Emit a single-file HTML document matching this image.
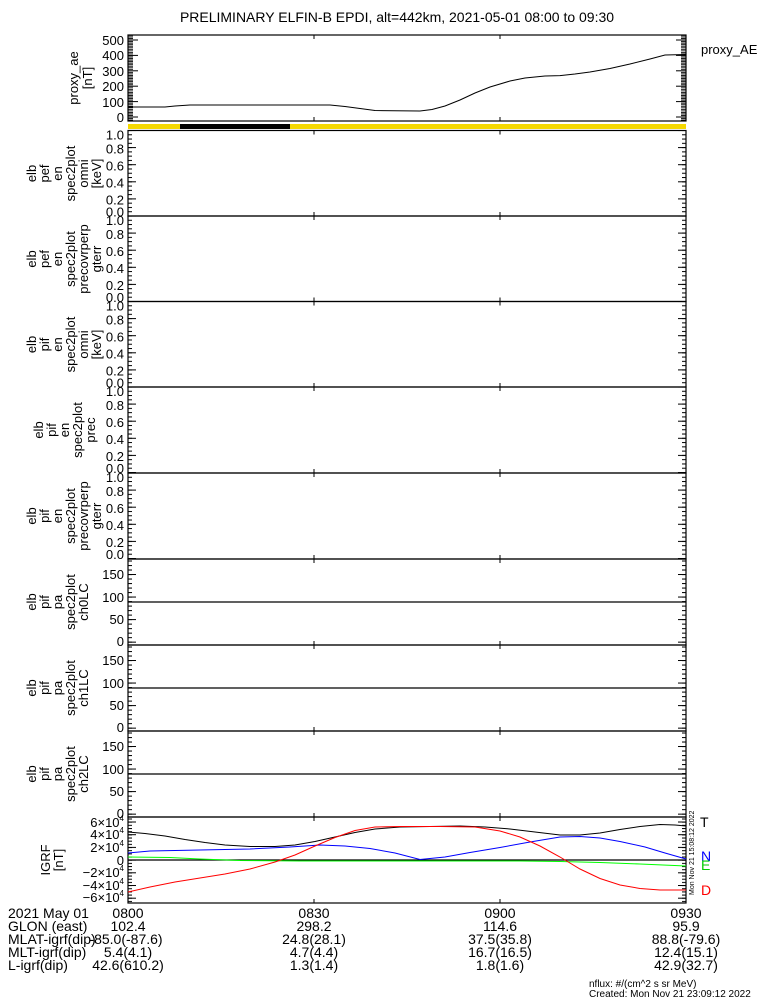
<!DOCTYPE html>
<html><head><meta charset="utf-8"><style>
html,body{margin:0;padding:0;background:#fff}
svg{display:block;font-family:"Liberation Sans",sans-serif}
</style></head><body>
<svg width="775" height="1000" viewBox="0 0 775 1000" xmlns="http://www.w3.org/2000/svg">
<defs>
<pattern id="sMin" patternUnits="userSpaceOnUse" width="1" height="4.275" y="-0.5"><rect width="1" height="1" fill="#000"/></pattern>
<pattern id="sMaj" patternUnits="userSpaceOnUse" width="1" height="17.1" y="-0.5"><rect width="1" height="1" fill="#000"/></pattern>
<pattern id="pMin" patternUnits="userSpaceOnUse" width="1" height="4.51" y="1.5"><rect width="1" height="1" fill="#000"/></pattern>
<pattern id="pMaj" patternUnits="userSpaceOnUse" width="1" height="22.55" y="15"><rect width="1" height="1" fill="#000"/></pattern>
<pattern id="aMin" patternUnits="userSpaceOnUse" width="1" height="1.54" y="0"><rect width="1" height="0.9" fill="#000"/></pattern>
<pattern id="aMaj" patternUnits="userSpaceOnUse" width="1" height="15.4" y="4.5"><rect width="1" height="1" fill="#000"/></pattern>
<pattern id="iMin" patternUnits="userSpaceOnUse" width="1" height="3.17" y="1.5"><rect width="1" height="1" fill="#000"/></pattern>
<pattern id="iMaj" patternUnits="userSpaceOnUse" width="1" height="12.7" y="4.5"><rect width="1" height="1" fill="#000"/></pattern>
</defs>
<text x="397" y="22" font-size="14" text-anchor="middle">PRELIMINARY ELFIN-B EPDI, alt=442km, 2021-05-01 08:00 to 09:30</text>

<!-- proxy AE -->
<g transform="translate(0,35)">
<rect x="128" y="0" width="558" height="86" fill="none" stroke="#000" stroke-width="1.2"/>
<rect x="128" y="0" width="5" height="86" fill="url(#aMin)"/>
<rect x="128" y="0" width="10" height="86" fill="url(#aMaj)"/>
<rect x="681" y="0" width="5" height="86" fill="url(#aMin)"/>
<rect x="676" y="0" width="10" height="86" fill="url(#aMaj)"/>
<g font-size="13" text-anchor="end">
<text x="124" y="10">500</text><text x="124" y="25">400</text><text x="124" y="41">300</text><text x="124" y="56">200</text><text x="124" y="72">100</text><text x="124" y="87">0</text></g>
<text transform="translate(78,43) rotate(-90)" font-size="13" text-anchor="middle">proxy_ae</text>
<text transform="translate(92,43) rotate(-90)" font-size="13" text-anchor="middle">[nT]</text>
</g>
<polyline fill="none" stroke="#000" stroke-width="1" points="128,107 165,107 175,106 190,105 330,105 345,106.5 375,110.5 420,111 432,109.5 445,106 460,100 475,93 490,87 510,81 525,78 545,76 560,75.6 575,74 590,72 610,68.5 630,64 650,59 665,55 686,54.5"/>
<text x="701" y="54" font-size="13">proxy_AE</text>
<rect x="128" y="124" width="558" height="5" fill="#f5d800"/>
<rect x="180" y="124" width="110" height="5" fill="#000"/>

<!-- spec panels -->
<g font-size="13">
<g transform="translate(0,130.5)"><rect x="128" y="0" width="558" height="85.5" fill="none" stroke="#000" stroke-width="1.2"/>
<rect x="128" y="0" width="4" height="86" fill="url(#sMin)"/><rect x="128" y="0" width="8" height="86" fill="url(#sMaj)"/>
<rect x="682" y="0" width="4" height="86" fill="url(#sMin)"/><rect x="678" y="0" width="8" height="86" fill="url(#sMaj)"/>
<g text-anchor="end"><text x="124" y="9">1.0</text><text x="124" y="23">0.8</text><text x="124" y="40">0.6</text><text x="124" y="57">0.4</text><text x="124" y="74">0.2</text><text x="124" y="86">0.0</text></g>
<g text-anchor="middle"><text transform="translate(36,43) rotate(-90)">elb</text><text transform="translate(49,43) rotate(-90)">pef</text><text transform="translate(62,43) rotate(-90)">en</text><text transform="translate(75,43) rotate(-90)">spec2plot</text><text transform="translate(88,43) rotate(-90)">omni</text><text transform="translate(101,43) rotate(-90)">[keV]</text></g></g>

<g transform="translate(0,216)"><rect x="128" y="0" width="558" height="85.5" fill="none" stroke="#000" stroke-width="1.2"/>
<rect x="128" y="0" width="4" height="86" fill="url(#sMin)"/><rect x="128" y="0" width="8" height="86" fill="url(#sMaj)"/>
<rect x="682" y="0" width="4" height="86" fill="url(#sMin)"/><rect x="678" y="0" width="8" height="86" fill="url(#sMaj)"/>
<g text-anchor="end"><text x="124" y="9">1.0</text><text x="124" y="23">0.8</text><text x="124" y="40">0.6</text><text x="124" y="57">0.4</text><text x="124" y="74">0.2</text><text x="124" y="86">0.0</text></g>
<g text-anchor="middle"><text transform="translate(36,43) rotate(-90)">elb</text><text transform="translate(49,43) rotate(-90)">pef</text><text transform="translate(62,43) rotate(-90)">en</text><text transform="translate(75,43) rotate(-90)">spec2plot</text><text transform="translate(88,43) rotate(-90)">precovrperp</text><text transform="translate(101,43) rotate(-90)">gterr</text></g></g>

<g transform="translate(0,301.5)"><rect x="128" y="0" width="558" height="85.5" fill="none" stroke="#000" stroke-width="1.2"/>
<rect x="128" y="0" width="4" height="86" fill="url(#sMin)"/><rect x="128" y="0" width="8" height="86" fill="url(#sMaj)"/>
<rect x="682" y="0" width="4" height="86" fill="url(#sMin)"/><rect x="678" y="0" width="8" height="86" fill="url(#sMaj)"/>
<g text-anchor="end"><text x="124" y="9">1.0</text><text x="124" y="23">0.8</text><text x="124" y="40">0.6</text><text x="124" y="57">0.4</text><text x="124" y="74">0.2</text><text x="124" y="86">0.0</text></g>
<g text-anchor="middle"><text transform="translate(36,43) rotate(-90)">elb</text><text transform="translate(49,43) rotate(-90)">pif</text><text transform="translate(62,43) rotate(-90)">en</text><text transform="translate(75,43) rotate(-90)">spec2plot</text><text transform="translate(88,43) rotate(-90)">omni</text><text transform="translate(101,43) rotate(-90)">[keV]</text></g></g>

<g transform="translate(0,387)"><rect x="128" y="0" width="558" height="86" fill="none" stroke="#000" stroke-width="1.2"/>
<rect x="128" y="0" width="4" height="86" fill="url(#sMin)"/><rect x="128" y="0" width="8" height="86" fill="url(#sMaj)"/>
<rect x="682" y="0" width="4" height="86" fill="url(#sMin)"/><rect x="678" y="0" width="8" height="86" fill="url(#sMaj)"/>
<g text-anchor="end"><text x="124" y="9">1.0</text><text x="124" y="23">0.8</text><text x="124" y="40">0.6</text><text x="124" y="57">0.4</text><text x="124" y="74">0.2</text><text x="124" y="86">0.0</text></g>
<g text-anchor="middle"><text transform="translate(43,43) rotate(-90)">elb</text><text transform="translate(56,43) rotate(-90)">pif</text><text transform="translate(69,43) rotate(-90)">en</text><text transform="translate(82,43) rotate(-90)">spec2plot</text><text transform="translate(95,43) rotate(-90)">prec</text></g></g>

<g transform="translate(0,473)"><rect x="128" y="0" width="558" height="86" fill="none" stroke="#000" stroke-width="1.2"/>
<rect x="128" y="0" width="4" height="86" fill="url(#sMin)"/><rect x="128" y="0" width="8" height="86" fill="url(#sMaj)"/>
<rect x="682" y="0" width="4" height="86" fill="url(#sMin)"/><rect x="678" y="0" width="8" height="86" fill="url(#sMaj)"/>
<g text-anchor="end"><text x="124" y="9">1.0</text><text x="124" y="23">0.8</text><text x="124" y="40">0.6</text><text x="124" y="57">0.4</text><text x="124" y="74">0.2</text><text x="124" y="86">0.0</text></g>
<g text-anchor="middle"><text transform="translate(36,43) rotate(-90)">elb</text><text transform="translate(49,43) rotate(-90)">pif</text><text transform="translate(62,43) rotate(-90)">en</text><text transform="translate(75,43) rotate(-90)">spec2plot</text><text transform="translate(88,43) rotate(-90)">precovrperp</text><text transform="translate(101,43) rotate(-90)">gterr</text></g></g>

<!-- pa panels -->
<g transform="translate(0,559)"><rect x="128" y="0" width="558" height="86" fill="none" stroke="#000" stroke-width="1.2"/>
<rect x="128" y="0" width="4" height="86" fill="url(#pMin)"/><rect x="128" y="0" width="8" height="86" fill="url(#pMaj)"/>
<rect x="682" y="0" width="4" height="86" fill="url(#pMin)"/><rect x="678" y="0" width="8" height="86" fill="url(#pMaj)"/>
<line x1="128" y1="43" x2="686" y2="43" stroke="#000" stroke-width="1.2"/>
<g text-anchor="end"><text x="124" y="20">150</text><text x="124" y="43">100</text><text x="124" y="65">50</text><text x="124" y="87">0</text></g>
<g text-anchor="middle"><text transform="translate(36,43) rotate(-90)">elb</text><text transform="translate(49,43) rotate(-90)">pif</text><text transform="translate(62,43) rotate(-90)">pa</text><text transform="translate(75,43) rotate(-90)">spec2plot</text><text transform="translate(88,43) rotate(-90)">ch0LC</text></g></g>

<g transform="translate(0,645)"><rect x="128" y="0" width="558" height="86" fill="none" stroke="#000" stroke-width="1.2"/>
<rect x="128" y="0" width="4" height="86" fill="url(#pMin)"/><rect x="128" y="0" width="8" height="86" fill="url(#pMaj)"/>
<rect x="682" y="0" width="4" height="86" fill="url(#pMin)"/><rect x="678" y="0" width="8" height="86" fill="url(#pMaj)"/>
<line x1="128" y1="43" x2="686" y2="43" stroke="#000" stroke-width="1.2"/>
<g text-anchor="end"><text x="124" y="20">150</text><text x="124" y="43">100</text><text x="124" y="65">50</text><text x="124" y="87">0</text></g>
<g text-anchor="middle"><text transform="translate(36,43) rotate(-90)">elb</text><text transform="translate(49,43) rotate(-90)">pif</text><text transform="translate(62,43) rotate(-90)">pa</text><text transform="translate(75,43) rotate(-90)">spec2plot</text><text transform="translate(88,43) rotate(-90)">ch1LC</text></g></g>

<g transform="translate(0,731)"><rect x="128" y="0" width="558" height="86" fill="none" stroke="#000" stroke-width="1.2"/>
<rect x="128" y="0" width="4" height="86" fill="url(#pMin)"/><rect x="128" y="0" width="8" height="86" fill="url(#pMaj)"/>
<rect x="682" y="0" width="4" height="86" fill="url(#pMin)"/><rect x="678" y="0" width="8" height="86" fill="url(#pMaj)"/>
<line x1="128" y1="43" x2="686" y2="43" stroke="#000" stroke-width="1.2"/>
<g text-anchor="end"><text x="124" y="20">150</text><text x="124" y="43">100</text><text x="124" y="65">50</text><text x="124" y="87">0</text></g>
<g text-anchor="middle"><text transform="translate(36,43) rotate(-90)">elb</text><text transform="translate(49,43) rotate(-90)">pif</text><text transform="translate(62,43) rotate(-90)">pa</text><text transform="translate(75,43) rotate(-90)">spec2plot</text><text transform="translate(88,43) rotate(-90)">ch2LC</text></g></g>

<!-- IGRF -->
<g transform="translate(0,817)"><rect x="128" y="0" width="558" height="86" fill="none" stroke="#000" stroke-width="1.2"/>
<rect x="128" y="0" width="4" height="86" fill="url(#iMin)"/><rect x="128" y="0" width="8" height="86" fill="url(#iMaj)"/>
<rect x="682" y="0" width="4" height="86" fill="url(#iMin)"/><rect x="678" y="0" width="8" height="86" fill="url(#iMaj)"/>
<line x1="128" y1="43" x2="686" y2="43" stroke="#000" stroke-width="1.2"/>
<g text-anchor="end" font-size="13"><text x="124" y="10">6×10<tspan font-size="8" dy="-6">4</tspan></text><text x="124" y="22">4×10<tspan font-size="8" dy="-6">4</tspan></text><text x="124" y="35">2×10<tspan font-size="8" dy="-6">4</tspan></text><text x="124" y="48">0</text><text x="124" y="60">−2×10<tspan font-size="8" dy="-6">4</tspan></text><text x="124" y="73">−4×10<tspan font-size="8" dy="-6">4</tspan></text><text x="124" y="85">−6×10<tspan font-size="8" dy="-6">4</tspan></text></g>
<g text-anchor="middle"><text transform="translate(50,43) rotate(-90)">IGRF</text><text transform="translate(63,43) rotate(-90)">[nT]</text></g></g>
</g>

<!-- x ticks -->
<g stroke="#000" stroke-width="1">
<path d="M314,121v-4M500,121v-4M314,35v4M500,35v4"/>
<path d="M314,130.5v4M500,130.5v4M314,216v-4M500,216v-4M314,216v4M500,216v4M314,301.5v-4M500,301.5v-4M314,301.5v4M500,301.5v4M314,387v-4M500,387v-4M314,387v4M500,387v4M314,473v-4M500,473v-4M314,473v4M500,473v4M314,559v-4M500,559v-4M314,559v4M500,559v4M314,645v-4M500,645v-4M314,645v4M500,645v4M314,731v-4M500,731v-4M314,731v4M500,731v4M314,817v-4M500,817v-4M314,817v4M500,817v4M314,903v-4M500,903v-4"/>
</g>

<polyline fill="none" stroke="#000" stroke-width="1" points="128,832 145,833.5 165,836 185,839.5 205,842.5 225,845 250,846.5 275,846.5 295,845 315,841.5 335,837 355,832.5 375,829 400,827 430,826.5 460,826 485,827 510,829 535,832 560,835 580,835 600,833 620,829.5 640,826.5 660,824.5 675,825 686,826"/>
<polyline fill="none" stroke="#0000ff" stroke-width="1" points="128,853 150,851 200,850 250,849 290,847 320,845 345,846 370,848.5 395,853 420,859.5 445,857 470,852.5 500,847.5 530,842 560,837 580,836.5 600,838 620,841.5 645,847 665,853 686,859"/>
<polyline fill="none" stroke="#00ff00" stroke-width="1" points="128,857 170,857.5 200,859 240,860.5 300,861 520,861 560,861.5 600,862.5 640,864 686,866"/>
<polyline fill="none" stroke="#ff0000" stroke-width="1" points="128,892 150,887 175,882 200,878 225,874 250,869 275,862 295,855 315,846 335,837.5 355,830.5 375,827 400,826.5 440,826.5 475,827 500,831 520,837 540,846 560,857 580,869 600,878.5 620,885 640,888.5 660,890 686,890"/>
<g font-size="14"><text x="700" y="827">T</text><text x="701" y="861" fill="#0000ff">N</text><text x="701" y="870" fill="#00cc00">E</text><text x="701" y="895" fill="#ff0000">D</text></g>
<text transform="translate(694,895) rotate(-90)" font-size="7">Mon Nov 21 15:08:12 2022</text>

<!-- bottom text -->
<g font-size="14">
<text x="8" y="918">2021 May 01</text><text x="8" y="931">GLON (east)</text><text x="8" y="944">MLAT-igrf(dip)</text><text x="8" y="957">MLT-igrf(dip)</text><text x="8" y="970">L-igrf(dip)</text>
<g text-anchor="middle">
<text x="128" y="918">0800</text><text x="128" y="931">102.4</text><text x="126" y="944">-85.0(-87.6)</text><text x="128" y="957">5.4(4.1)</text><text x="128" y="970">42.6(610.2)</text>
<text x="314" y="918">0830</text><text x="314" y="931">298.2</text><text x="314" y="944">24.8(28.1)</text><text x="314" y="957">4.7(4.4)</text><text x="314" y="970">1.3(1.4)</text>
<text x="500" y="918">0900</text><text x="500" y="931">114.6</text><text x="500" y="944">37.5(35.8)</text><text x="500" y="957">16.7(16.5)</text><text x="500" y="970">1.8(1.6)</text>
<text x="686" y="918">0930</text><text x="686" y="931">95.9</text><text x="686" y="944">88.8(-79.6)</text><text x="686" y="957">12.4(15.1)</text><text x="686" y="970">42.9(32.7)</text>
</g></g>
<g font-size="10"><text x="589" y="987">nflux: #/(cm^2 s sr MeV)</text><text x="589" y="997">Created: Mon Nov 21 23:09:12 2022</text></g>
</svg>
</body></html>
